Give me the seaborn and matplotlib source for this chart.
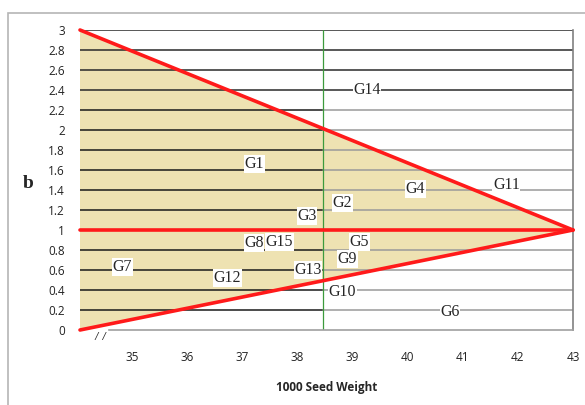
import numpy as np
import matplotlib
matplotlib.use("Agg")
import matplotlib.pyplot as plt
import seaborn as sns
import pandas as pd
from matplotlib.patches import Rectangle

genotypes = ['G1', 'G2', 'G3', 'G4', 'G5', 'G6', 'G7', 'G8', 'G9', 'G10',
             'G11', 'G12', 'G13', 'G14', 'G15']
seed_weight = [37.22, 38.81, 38.17, 40.14, 39.12, 40.77, 34.82, 37.21, 38.90,
               38.81, 41.79, 36.73, 38.19, 39.26, 37.67]
b_value = [1.66, 1.27, 1.14, 1.41, 0.88, 0.18, 0.63, 0.87, 0.71, 0.38, 1.45,
           0.52, 0.60, 2.40, 0.88]

mean_weight = 38.46
x_min, x_max = 34.05, 43.0
tri_x = [x_min, x_max, x_min]
tri_y = [3.0, 1.0, 0.0]
y_ticks = [round(v, 1) for v in np.arange(0, 3.01, 0.2)]
x_ticks = [35, 36, 37, 38, 39, 40, 41, 42, 43]

sns.set_theme(style="white")
plt.rcParams['font.family'] = ['Open Sans', 'DejaVu Sans']

fig = plt.figure(figsize=(5.85, 4.05), dpi=100)
ax = fig.add_axes([80 / 585, 1 - 330 / 405, (573 - 80) / 585, 300 / 405])

# shaded triangle
ax.fill(tri_x, tri_y, color='#eee2b2', zorder=0, lw=0)

# grid lines (dark on left half, grey on right half)
for y in y_ticks[1:]:
    if y == 1.0:
        continue
    if y >= 2.4:
        ax.plot([x_min, x_max], [y, y], color='#2a2a2a', lw=1.1, zorder=1)
    else:
        ax.plot([x_min, mean_weight], [y, y], color='#1a1a1a', lw=1.1, zorder=1)
        ax.plot([mean_weight, x_max], [y, y], color='#9a9a9a', lw=1.1, zorder=1)

ax.plot([mean_weight, mean_weight], [0, 3], color='#3c9a3c', lw=0.9, zorder=2)

# red boundary lines
edges = pd.DataFrame({
    'x': [x_min, x_max, x_min, x_max, x_min, x_max],
    'y': [3.0, 1.0, 1.0, 1.0, 0.0, 1.0],
    'edge': ['top', 'top', 'mid', 'mid', 'low', 'low'],
})
sns.lineplot(data=edges, x='x', y='y', units='edge', estimator=None,
             color='#ff1a1a', lw=2.6, ax=ax, zorder=4, clip_on=False)

for i, (g, xw, yb) in enumerate(zip(genotypes, seed_weight, b_value)):
    ax.text(xw, yb, g, ha='center', va='center', fontsize=11.5,
            family='Liberation Serif', zorder=20 - i,
            bbox=dict(facecolor='white', edgecolor='none', pad=0.5))

ax.set_xlim(x_min, x_max)
ax.set_ylim(0, 3)
ax.set_xticks(x_ticks)
ax.set_yticks(y_ticks)
ax.set_yticklabels([f"{v:g}" for v in y_ticks])
ax.tick_params(axis='x', length=0, pad=15, labelsize=8.5, colors='#222222')
ax.tick_params(axis='y', length=0, pad=11, labelsize=8.5, colors='#222222')

ax.spines['top'].set_visible(False)
ax.spines['left'].set_visible(False)
ax.spines['bottom'].set_color('#a0a0a0')
ax.spines['bottom'].set_linewidth(1.2)
ax.spines['bottom'].set_bounds(34.58, 43)
ax.spines['right'].set_color('#808080')
ax.spines['right'].set_linewidth(1.2)

ax.set_xlabel('1000 Seed Weight', fontsize=8.5, fontweight='bold', labelpad=12)
ax.set_ylabel('')
fig.text(28 / 585, 1 - 183 / 405, 'b', fontsize=14, fontweight='bold',
         family='Liberation Serif', ha='center', va='center')
ax.text(34.42, -0.07, '/  /', fontsize=7, style='italic', ha='center', va='center')

# outer chart frame
fig.patches.append(Rectangle((8 / 585, -0.02), 1.0, 1 - 13 / 405 + 0.02,
                             transform=fig.transFigure, fill=False,
                             edgecolor='#b5b5b5', lw=1.2))

fig.savefig('out.png', dpi=100)
